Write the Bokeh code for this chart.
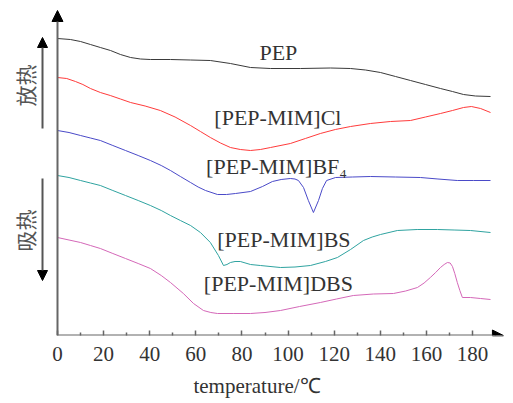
import math
from bokeh.plotting import figure
from bokeh.models import Range1d, FixedTicker, Arrow, NormalHead
from bokeh.core.properties import value
from bokeh.embed import file_html
from bokeh.resources import INLINE

# temperature (°C) and heat flow (arbitrary units, offset curves)
pep_t = [0, 5.6, 10.0, 14.3, 18.6, 23.0, 27.3, 31.7, 36.0, 40.3, 49.0, 57.7, 66.3, 75.0, 83.7, 92.4, 105.4, 118.4, 127.1, 133.6, 140.1, 146.6, 153.1, 159.6, 166.1, 171.3, 176.1, 181.3, 187.8]
pep_h = [297, 296, 294, 291, 288, 285, 281, 278, 276.5, 276, 276, 275.5, 275, 272, 268, 267, 267, 267.5, 267, 265.5, 263, 259, 255, 251, 247, 244, 241, 239.5, 239]

cl_t = [0, 4.0, 7.8, 11.0, 14.3, 18.6, 22.9, 27.3, 31.7, 38.0, 44.6, 51.0, 57.7, 62.0, 66.3, 70.7, 75.0, 79.3, 83.7, 88.0, 92.4, 101.0, 107.5, 114.0, 120.5, 127.1, 135.7, 144.4, 153.1, 159.6, 166.1, 171.3, 176.1, 179.5, 183.5, 187.8]
cl_h = [258, 257, 254, 251, 247, 243, 240, 236.5, 233, 229.5, 225, 218.5, 210, 204, 198, 192.5, 188, 186, 185, 186, 188, 192, 197, 202, 206, 209, 212, 214, 215, 218.5, 222, 225, 228, 229, 227, 223]

bf4_t = [0, 5.0, 10.0, 14.3, 18.6, 24.0, 29.5, 35.0, 40.3, 45.0, 49.0, 53.3, 57.7, 61.0, 64.2, 69.4, 73.3, 77.2, 83.7, 88.9, 93.2, 97.0, 101.0, 103.0, 104.5, 106.7, 108.8, 111.0, 113.2, 114.9, 116.7, 120.6, 128.0, 135.7, 146.5, 157.4, 165.0, 173.4, 180.5, 187.8]
bf4_h = [205, 203, 200, 197.5, 195, 190, 185, 180, 175, 170, 165, 159, 153, 148.5, 145, 141, 141, 142, 144, 149, 154, 156, 157, 156.5, 155, 148, 135, 123, 135, 147, 155, 158, 158.5, 159, 158.5, 158, 156.5, 155, 155, 155]

bs_t = [0, 5.0, 10.0, 14.3, 18.6, 24.0, 29.5, 35.0, 40.3, 45.0, 49.0, 53.3, 57.7, 62.0, 66.3, 69.8, 72.0, 73.5, 75.0, 77.0, 79.3, 83.7, 88.0, 96.7, 103.0, 109.7, 116.2, 121.4, 127.1, 132.7, 136.5, 140.1, 147.4, 156.0, 164.8, 172.0, 179.1, 187.8]
bs_h = [160, 158, 155, 152.5, 150, 145, 140, 135, 130, 125, 120, 115, 110, 103, 93, 80, 70, 71, 73, 74, 74, 71, 70, 68, 68.5, 70, 74, 78, 86, 95, 98.5, 101, 105, 106, 106, 105.5, 105, 103]

dbs_t = [0, 5.0, 10.0, 14.3, 18.6, 24.0, 29.5, 35.0, 40.3, 45.0, 49.0, 54.6, 59.0, 63.3, 66.5, 69.4, 76.5, 83.7, 90.0, 96.7, 105.0, 114.0, 121.0, 128.3, 137.0, 145.7, 151.0, 156.1, 159.0, 161.7, 164.0, 166.1, 167.7, 169.1, 170.3, 171.3, 172.3, 173.4, 174.5, 175.6, 179.1, 183.5, 187.8]
dbs_h = [98, 95.5, 93, 90, 87, 82, 77, 72, 67, 60, 53, 42, 32, 25, 23, 22, 22, 22, 23, 25, 29, 33, 36.5, 40, 41.5, 42, 44.5, 48, 52.5, 58, 63, 68, 71, 73, 72.5, 69, 62, 53, 45, 38, 38, 37, 36]

series_names = ["PEP", "[PEP-MIM]Cl", "[PEP-MIM]BF₄", "[PEP-MIM]BS", "[PEP-MIM]DBS"]
series_colors = ["#3a3a3a", "#ff3b3b", "#4a4ac8", "#2fa3a0", "#d468b8"]
label_x = [95.8, 95.6, 95.0, 98.2, 95.8]
label_y = [283, 218, 169, 96, 52]

x_ticks = [0, 20, 40, 60, 80, 100, 120, 140, 160, 180]
x_minor = [10, 30, 50, 70, 90, 110, 130, 150, 170, 190]

SERIF = "Liberation Serif"

p = figure(width=505, height=400, output_backend="svg", toolbar_location=None,
           x_range=Range1d(-21.25, 194.3), y_range=Range1d(0, 327),
           y_axis_location=None, min_border_left=8, min_border_right=0,
           min_border_top=8, min_border_bottom=65)
p.outline_line_color = None
p.xgrid.visible = False
p.ygrid.visible = False
p.background_fill_color = "white"

series = [(pep_t, pep_h), (cl_t, cl_h), (bf4_t, bf4_h), (bs_t, bs_h), (dbs_t, dbs_h)]
for (t, h), c in zip(series, series_colors):
    p.line(t, h, line_color=c, line_width=1.0)

p.text(x=label_x, y=label_y, text=series_names, text_font=value(SERIF),
       text_font_size="22px", text_color="#333333", text_align="center", text_baseline="middle")

# x axis ticks and labels
ax = p.xaxis[0]
ax.ticker = FixedTicker(ticks=x_ticks, minor_ticks=x_minor)
ax.axis_line_color = None
ax.major_tick_in = 5
ax.major_tick_out = 0
ax.minor_tick_in = 3
ax.minor_tick_out = 0
ax.major_tick_line_color = "#666666"
ax.minor_tick_line_color = "#666666"
ax.major_tick_line_width = 1.5
ax.minor_tick_line_width = 1.5
ax.major_label_text_font = SERIF
ax.major_label_text_font_size = "21px"
ax.major_label_text_color = "#333333"
ax.major_label_standoff = 11
ax.axis_label = "temperature/℃"
ax.axis_label_text_font = SERIF
ax.axis_label_text_font_size = "21px"
ax.axis_label_text_font_style = "normal"
ax.axis_label_text_color = "#333333"
ax.axis_label_standoff = 10

# axis lines with arrow heads
p.add_layout(Arrow(end=NormalHead(size=11, fill_color="black", line_color="black"),
                   x_start=0, y_start=0, x_end=193.4, y_end=0,
                   line_color="#666666", line_width=2))
p.add_layout(Arrow(end=NormalHead(size=11, fill_color="black", line_color="black"),
                   x_start=0, y_start=0, x_end=0, y_end=325,
                   line_color="#666666", line_width=2))

# exo / endo direction arrows
p.add_layout(Arrow(end=NormalHead(size=10, fill_color="black", line_color="black"),
                   x_start=-6.5, y_start=207, x_end=-6.5, y_end=298,
                   line_color="#555555", line_width=2))
p.add_layout(Arrow(end=NormalHead(size=10, fill_color="black", line_color="black"),
                   x_start=-6.5, y_start=157, x_end=-6.5, y_end=55,
                   line_color="#555555", line_width=2))
p.text(x=[-14.0, -14.0], y=[250, 105], text=["放热", "吸热"], angle=math.pi / 2,
       text_font=value("Noto Sans CJK SC"), text_font_size="21px", text_color="#555555",
       text_align="center", text_baseline="middle")

open("out.html", "w").write(file_html(p, INLINE))
